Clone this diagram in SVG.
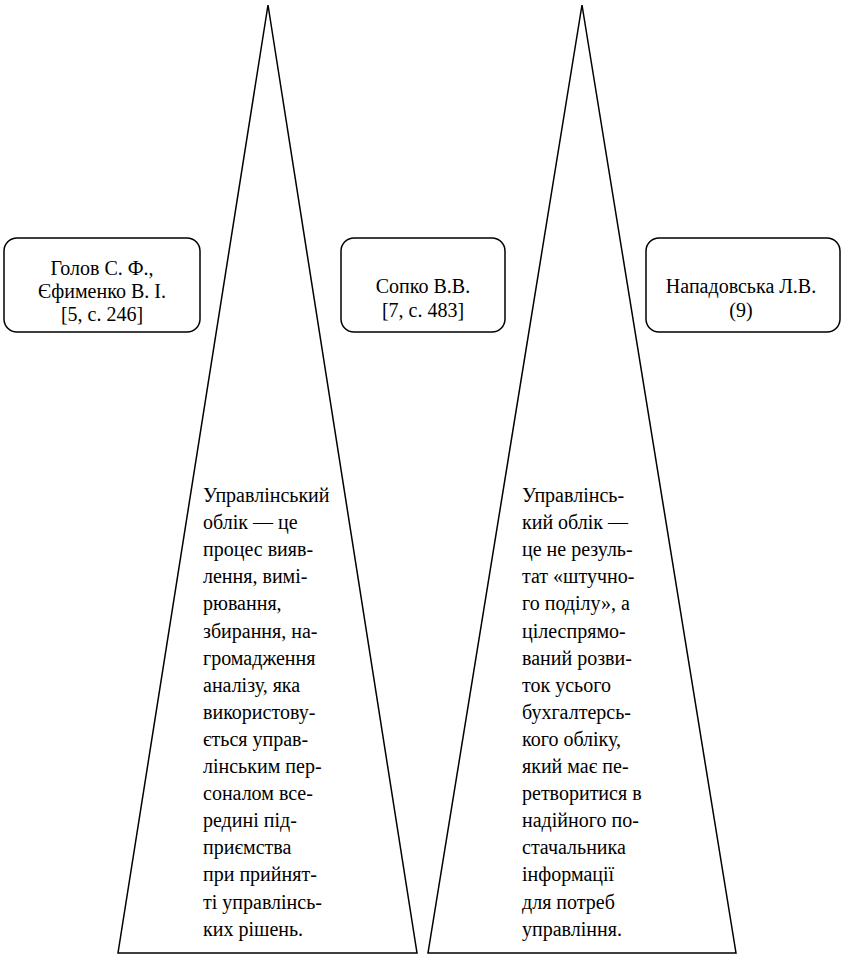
<svg xmlns="http://www.w3.org/2000/svg" width="842" height="956" viewBox="0 0 842 956">
<style>
.shape{fill:#ffffff;stroke:#000000;stroke-width:1.5}
.box{fill:#ffffff;stroke:#000000;stroke-width:1.5}
.t{font-family:'Liberation Serif','DejaVu Serif',serif;font-size:20px;fill:#000000}
.c{text-anchor:middle}
</style>
<rect width="842" height="956" fill="#ffffff"/>
<g id="triangle-left">
<polygon class="shape" points="268,5 118,953 417,953"/>
<text class="t" x="203" y="502">
<tspan x="203" dy="0">Управлінський</tspan>
<tspan x="203" dy="27.1">облік — це</tspan>
<tspan x="203" dy="27.1">процес вияв-</tspan>
<tspan x="203" dy="27.1">лення, вимі-</tspan>
<tspan x="203" dy="27.1">рювання,</tspan>
<tspan x="203" dy="27.1">збирання, на-</tspan>
<tspan x="203" dy="27.1">громадження</tspan>
<tspan x="203" dy="27.1">аналізу, яка</tspan>
<tspan x="203" dy="27.1">використову-</tspan>
<tspan x="203" dy="27.1">ється управ-</tspan>
<tspan x="203" dy="27.1">лінським пер-</tspan>
<tspan x="203" dy="27.1">соналом все-</tspan>
<tspan x="203" dy="27.1">редині під-</tspan>
<tspan x="203" dy="27.1">приємства</tspan>
<tspan x="203" dy="27.1">при прийнят-</tspan>
<tspan x="203" dy="27.1">ті управлінсь-</tspan>
<tspan x="203" dy="27.1">ких рішень.</tspan>
</text>
</g>
<g id="triangle-right">
<polygon class="shape" points="582,5 428,953 736,953"/>
<text class="t" x="522" y="502">
<tspan x="522" dy="0">Управлінсь-</tspan>
<tspan x="522" dy="27.1">кий облік —</tspan>
<tspan x="522" dy="27.1">це не резуль-</tspan>
<tspan x="522" dy="27.1">тат «штучно-</tspan>
<tspan x="522" dy="27.1">го поділу», а</tspan>
<tspan x="522" dy="27.1">цілеспрямо-</tspan>
<tspan x="522" dy="27.1">ваний розви-</tspan>
<tspan x="522" dy="27.1">ток усього</tspan>
<tspan x="522" dy="27.1">бухгалтерсь-</tspan>
<tspan x="522" dy="27.1">кого обліку,</tspan>
<tspan x="522" dy="27.1">який має пе-</tspan>
<tspan x="522" dy="27.1">ретворитися в</tspan>
<tspan x="522" dy="27.1">надійного по-</tspan>
<tspan x="522" dy="27.1">стачальника</tspan>
<tspan x="522" dy="27.1">інформації</tspan>
<tspan x="522" dy="27.1">для потреб</tspan>
<tspan x="522" dy="27.1">управління.</tspan>
</text>
</g>
<g id="box-golov">
<rect class="box" x="4" y="238" width="196" height="94" rx="13"/>
<text class="t c" x="102" y="275">Голов С. Ф.,</text>
<text class="t c" x="102" y="298">Єфименко В. І.</text>
<text class="t c" x="102" y="321">[5, с. 246]</text>
</g>
<g id="box-sopko">
<rect class="box" x="341" y="238" width="164" height="94" rx="13"/>
<text class="t c" x="423" y="293">Сопко В.В.</text>
<text class="t c" x="423" y="317">[7, с. 483]</text>
</g>
<g id="box-napadovska">
<rect class="box" x="646" y="238" width="194" height="94" rx="13"/>
<text class="t c" x="741" y="293">Нападовська Л.В.</text>
<text class="t c" x="741" y="317">(9)</text>
</g>
<g id="connectors"></g>
</svg>
